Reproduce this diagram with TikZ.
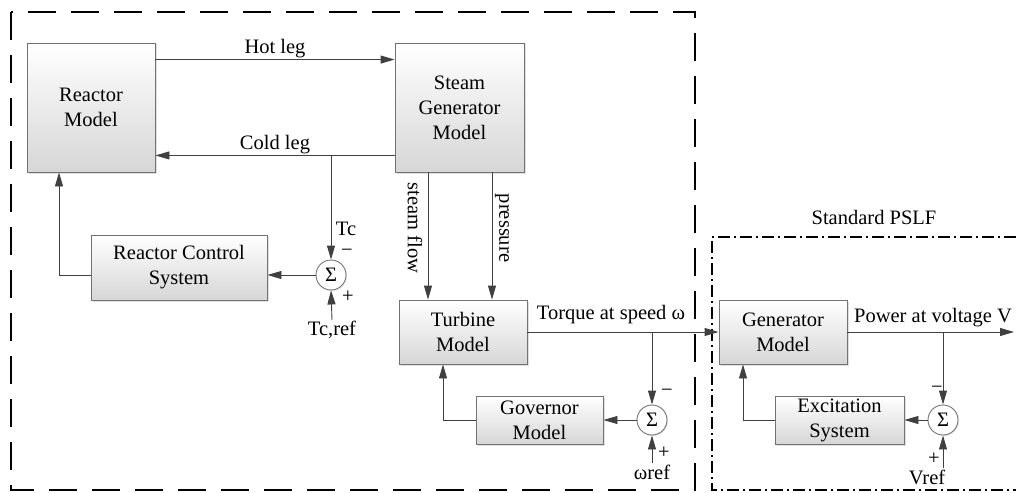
\documentclass[tikz,border=0pt]{standalone}
\usepackage{fontspec}
\setmainfont{Liberation Serif}
\usetikzlibrary{arrows.meta,shadows}

\begin{document}
\begin{tikzpicture}[
    x=1pt, y=-1pt,
    font=\fontsize{20.5}{25}\selectfont,
    block/.style={draw=black!55, line width=0.9pt, top color=white, bottom color=black!16, align=center, inner sep=2pt,
      drop shadow={shadow xshift=1.5pt, shadow yshift=-1.5pt, opacity=0.25}},
    sum/.style={draw=black!55, line width=0.9pt, circle, fill=white, minimum size=30pt, inner sep=0pt,
      drop shadow={shadow xshift=1pt, shadow yshift=-1pt, opacity=0.2}},
    note/.style={align=center, inner sep=1pt},
    sign/.style={inner sep=0pt},
    arr/.style={-{Triangle[length=14pt, width=8pt]}, line width=0.9pt, draw=black!75}
  ]
    \useasboundingbox (0,0) rectangle (1016,492);

    % frames
    \draw[line width=1.5pt, dash pattern=on 28pt off 15pt] (11,12) rectangle (695,490);
    \draw[line width=1.4pt, dash pattern=on 12pt off 4pt on 2pt off 4pt]
      (1016,237) -- (712,237) -- (712,490) -- (1016,490);
    \node[note] (pslf) at (874,217) {Standard PSLF};

    % blocks
    \node[block, minimum width=128pt, minimum height=129pt] (reactor) at (91,107.5) {Reactor\\Model};
    \node[block, minimum width=129pt, minimum height=129pt] (sg) at (459.5,107.5) {Steam\\Generator\\Model};
    \node[block, minimum width=176pt, minimum height=65pt] (rcs) at (179,267.5) {Reactor Control\\System};
    \node[block, minimum width=128pt, minimum height=64pt] (turbine) at (463,332) {Turbine\\Model};
    \node[block, minimum width=127pt, minimum height=48pt] (governor) at (539.5,420) {Governor\\Model};
    \node[block, minimum width=128pt, minimum height=64pt] (generator) at (783,332) {Generator\\Model};
    \node[block, minimum width=129pt, minimum height=48pt] (excitation) at (839.5,420) {Excitation\\System};

    \node[sum] (sum1) at (331,275) {Σ};
    \node[sum] (sum2) at (652,420) {Σ};
    \node[sum] (sum3) at (943,420) {Σ};

    % reactor loop
    \draw[arr] ([yshift=-17pt]reactor.north east) -- ([yshift=-17pt]sg.north west)
      node[midway, above, note] {Hot leg};
    \draw[arr] ([yshift=17pt]sg.south west) -- ([yshift=17pt]reactor.south east)
      node[midway, above, note] {Cold leg};
    \coordinate (tap1) at (sum1 |- reactor.south east);
    \draw[arr] ([yshift=17pt]tap1) -- (sum1.north);
    \node[note] (tc) at (346,229) {Tc};
    \node[sign] at (347,253) {−};
    \node[sign] at (348,297) {+};
    \node[note] (tcref) at (332,330) {Tc,ref};
    \draw[arr] (tcref.north) -- (sum1.south);
    \draw[arr] (sum1.west) -- (sum1.west -| rcs.east);
    \draw[arr] (sum1.west -| rcs.west) -| ([xshift=-32pt]reactor.south);

    % steam generator to turbine
    \draw[arr] ([xshift=-31.5pt]sg.south) -- ([xshift=-31.5pt]sg.south |- turbine.north);
    \draw[arr] ([xshift=32.5pt]sg.south) -- ([xshift=32.5pt]sg.south |- turbine.north);
    \node[note, rotate=-90] (sflow) at (415,228) {steam flow};
    \node[note, rotate=-90] (press) at (502,228) {pressure};

    % turbine and governor
    \draw[arr] (turbine.east) -- (generator.west);
    \node[note] (torque) at (611,315) {Torque at speed ω};
    \coordinate (tap2) at (sum2 |- turbine.east);
    \draw[arr] (tap2) -- (sum2.north);
    \node[sign] at (667,393) {−};
    \node[sign] at (664,453) {+};
    \node[note] (wref) at (652,472) {ωref};
    \draw[arr] (wref.north) -- (sum2.south);
    \draw[arr] (sum2.west) -- (governor.east);
    \draw[arr] (governor.west) -| ([xshift=-20pt]turbine.south);

    % generator and excitation
    \coordinate (vout) at (1014,332);
    \draw[arr] (generator.east) -- (vout);
    \node[note] (power) at (933,318) {Power at voltage V};
    \coordinate (tap3) at (sum3 |- generator.east);
    \draw[arr] (tap3) -- (sum3.north);
    \node[sign] at (937,390) {−};
    \node[sign] at (934,459) {+};
    \node[note] (vref) at (927,477) {Vref};
    \draw[arr] (sum3.south |- vref.north) -- (sum3.south);
    \draw[arr] (sum3.west) -- (excitation.east);
    \draw[arr] (excitation.west) -| ([xshift=-40pt]generator.south);
\end{tikzpicture}
\end{document}
